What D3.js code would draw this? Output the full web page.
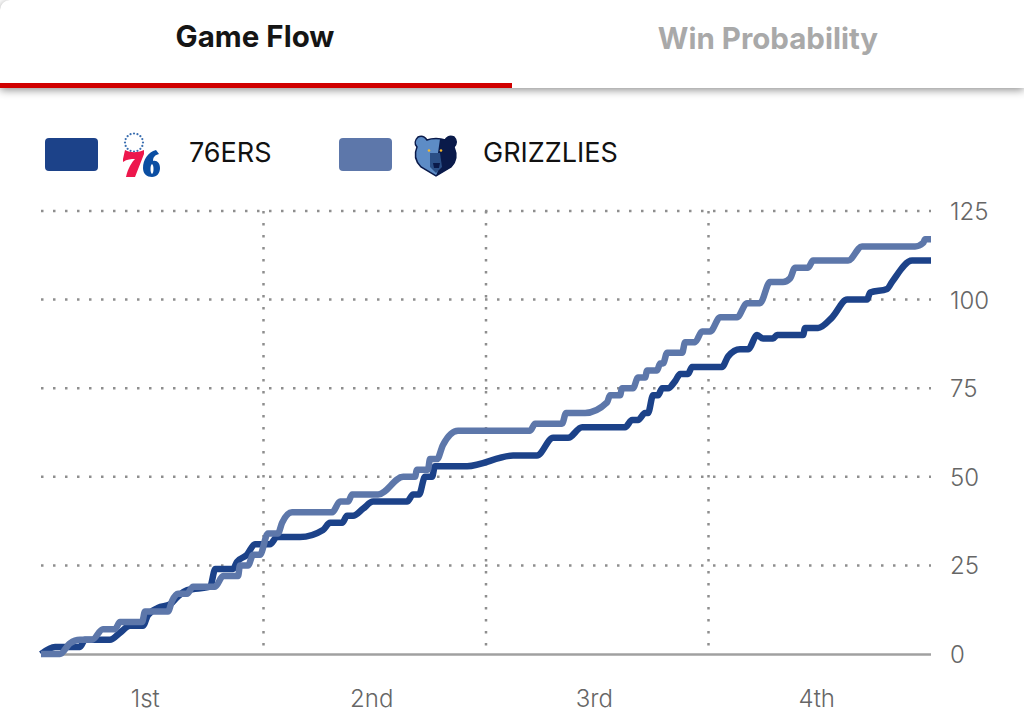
<!DOCTYPE html>
<html><head><meta charset="utf-8">
<script src="https://cdn.jsdelivr.net/npm/d3@7"></script>
<style>
html,body{margin:0;padding:0;background:#fff;width:1024px;height:724px;overflow:hidden}
svg{position:absolute;left:0;top:0}
#head{position:absolute;left:0;top:0;width:1024px;height:88px;background:#fff;box-shadow:0 2px 9px rgba(0,0,0,.45);border-top-left-radius:10px}
</style></head><body>
<div id="head"></div>
<script>
const tabs = ["Game Flow", "Win Probability"];
const teams = ["76ERS", "GRIZZLIES"];
const teamColors = ["#1c4289", "#5d77aa"];
const yTicks = [0, 25, 50, 75, 100, 125];
const quarters = ["1st", "2nd", "3rd", "4th"];

const sixersTime = [0,.76,1.02,2.10,2.37,3.72,4.26,4.80,5.50,5.77,6.31,6.96,7.34,7.88,9.12,9.40,10.36,10.57,11.11,11.54,12.35,12.73,13.97,15.21,15.59,16.24,16.51,16.83,17.37,17.91,19.74,20.07,20.39,20.71,21.09,21.25,22.98,25.46,26.75,27.62,28.43,29.18,31.50,31.88,32.20,32.58,32.74,33.01,33.28,33.50,33.82,34.20,34.47,34.90,35.11,36.73,37.06,37.70,38.14,38.62,38.94,39.48,39.70,41.10,41.21,41.91,42.67,43.48,44.55,44.72,45.63,45.90,46.98,48];
const sixersScore = [0,2,2,2,4,4,6,8,8,11,13,14,16,18,19,24,24,26,28,31,31,33,33,35,37,37,39,39,41,43,43,45,45,50,50,53,53,56,56,61,61,64,64,66,66,68,68,73,73,75,75,77,79,79,81,81,84,86,86,90,89,89,90,90,92,92,95,100,100,102,103,105,111,111];

const grizzTime = [0,1.02,1.56,2.10,2.75,3.34,3.99,4.26,5.45,5.61,6.85,7.07,7.39,7.88,8.20,9.39,9.82,10.63,10.73,11.17,11.44,11.81,12.24,12.78,13.00,13.54,15.70,16.13,16.56,16.78,18.18,19.53,20.17,20.28,20.87,20.98,21.36,21.68,22.49,26.38,26.65,28.10,28.32,29.34,30.53,30.69,31.23,31.34,31.93,32.20,32.58,32.69,33.23,33.39,33.55,33.77,34.58,34.74,35.28,35.65,36.09,36.63,37.54,38.08,38.78,39.32,40.02,40.40,40.67,41.37,41.64,43.53,44.28,47.14,47.58,47.68,48];
const grizzScore = [0,0,3,4,4,7,7,9,9,12,12,15,17,17,19,19,22,22,25,25,28,28,34,34,37,40,40,43,43,45,45,50,50,52,52,55,55,59,63,63,65,65,68,68,71,73,73,75,75,78,78,80,80,82,82,85,85,88,88,91,91,95,95,99,99,105,105,106,109,109,111,111,115,115,116,117,117];

const svg = d3.select("body").append("svg").attr("width",1024).attr("height",724);

// header tabs
const font = "Inter, Roboto, sans-serif";
svg.selectAll("text.tab").data(tabs).join("text").attr("class","tab")
  .attr("x",(d,i)=>i?768:255).attr("y",(d,i)=>i?49:47).attr("text-anchor","middle")
  .attr("font-family",font).attr("font-weight",700).attr("font-size",29.5)
  .attr("fill",(d,i)=>i?"#a9a9a9":"#151515").text(d=>d);
svg.append("rect").attr("x",0).attr("y",83).attr("width",512).attr("height",5).attr("fill","#d00000");

// scales
const x = d3.scaleLinear().domain([0,48]).range([41,931]);
const y = d3.scaleLinear().domain([0,125]).range([654,211]);
const grid = "#8e8e8e";

// dotted grid
svg.selectAll("line.h").data(yTicks.filter(d=>d)).join("line").attr("class","h")
  .attr("x1",x(0)).attr("x2",x(48)).attr("y1",d=>y(d)).attr("y2",d=>y(d))
  .attr("stroke",grid).attr("stroke-width",2.5).attr("stroke-dasharray","2.5 9.5");
svg.selectAll("line.v").data([12,24,36]).join("line").attr("class","v")
  .attr("x1",d=>x(d)).attr("x2",d=>x(d)).attr("y1",y(125)).attr("y2",y(0))
  .attr("stroke",grid).attr("stroke-width",2.5).attr("stroke-dasharray","2.5 9.5");
svg.append("line").attr("x1",x(0)).attr("x2",x(48)).attr("y1",y(0)+.5).attr("y2",y(0)+.5)
  .attr("stroke","#a0a0a0").attr("stroke-width",2.5);

// axis labels
svg.selectAll("text.yt").data(yTicks).join("text").attr("class","yt")
  .attr("x",950).attr("y",d=>y(d)+9).attr("font-family",font).attr("font-size",24).attr("font-weight",300)
  .attr("fill","#666").text(d=>d);
svg.selectAll("text.q").data(quarters).join("text").attr("class","q")
  .attr("x",(d,i)=>x(6+12*i)-(i?3:7)).attr("y",707).attr("text-anchor","middle")
  .attr("font-family",font).attr("font-size",24).attr("font-weight",300).attr("fill","#666").text(d=>d);

// lines
const line = d3.line().x(d=>x(d[0])).y(d=>y(d[1])).curve(d3.curveMonotoneX);
[[sixersTime,sixersScore],[grizzTime,grizzScore]].forEach((s,i)=>{
  svg.append("path").attr("d",line(d3.zip(s[0],s[1]))).attr("fill","none")
    .attr("stroke",teamColors[i]).attr("stroke-width",6.5).attr("stroke-linejoin","round");
});

// legend
const legendX = [45,339], labelX = [189,483];
svg.selectAll("rect.sw").data(teams).join("rect").attr("class","sw")
  .attr("x",(d,i)=>legendX[i]).attr("y",138).attr("width",53).attr("height",33).attr("rx",4)
  .attr("fill",(d,i)=>teamColors[i]);
svg.selectAll("text.lg").data(teams).join("text").attr("class","lg")
  .attr("x",(d,i)=>labelX[i]).attr("y",162).attr("font-family",font).attr("font-size",27).attr("font-weight",400)
  .attr("fill","#111").text(d=>d);

// 76ers mark
const l1 = svg.append("g").attr("transform","translate(123,132)");
l1.selectAll("circle").data(d3.range(16)).join("circle")
  .attr("cx",d=>11+9*Math.cos(d/16*2*Math.PI)).attr("cy",d=>10.5+9*Math.sin(d/16*2*Math.PI))
  .attr("r",1.1).attr("fill","#3b6fb0");
l1.append("path").attr("fill","#ed174c")
  .attr("d","M0 27 L2 18 C8 21 14 21 21 18 L21 22 L12 45 L3 45 C5 36 9 30 12 27 C8 27 4 27 0 30 Z");
l1.append("path").attr("fill-rule","evenodd").attr("fill","#0b4ea2")
  .attr("d","M33 18 C25 20 20 28 20 36 C20 42 24 45 29 45 C34 45 37 41 37 36 C37 31 34 28 30 29 C30 25 32 23 36 22 Z M29 32 C27 33 27 41 29 42 C31 41 31 33 29 32 Z");

// Grizzlies mark
const l2 = svg.append("g").attr("transform","translate(413,135)");
const bear = "M5 2 C9 0 12 2 14 5 C19 3 27 3 32 5 C34 2 37 0 41 2 C44 5 44 9 41 12 C44 19 44 26 38 32 L23 41 L8 32 C2 26 1 19 4 12 C1 9 2 5 5 2 Z";
l2.append("path").attr("d",bear).attr("fill","#5d8cc6").attr("stroke","#0a1a4a").attr("stroke-width",1.5);
l2.append("path").attr("fill","#0a1a4a")
  .attr("d","M27 4 C29 4 31 4 32 5 C34 2 37 0 41 2 C44 5 44 9 41 12 C44 19 44 26 38 32 L23 41 L27 30 L25 18 Z");
l2.append("path").attr("fill","#2b4f86").attr("d","M17 18 L27 18 L29 32 L23 38 L17 32 Z");
l2.append("path").attr("fill","#0a1a4a").attr("d","M20 28 L27 28 L26 33 L21 33 Z");
l2.selectAll("circle").data([0,1]).join("circle")
  .attr("cx",d=>d?28:16).attr("cy",15.5).attr("r",1.3).attr("fill","#f5b82e");
</script></body></html>
